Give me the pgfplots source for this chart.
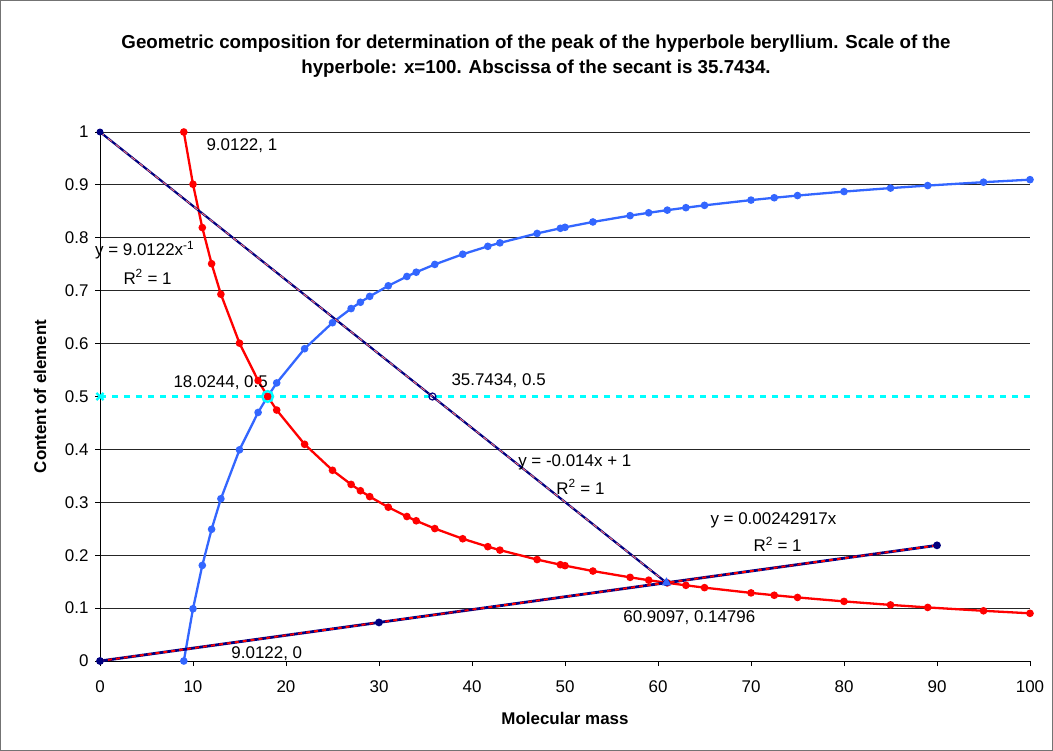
\documentclass[border=0pt]{standalone}
\usepackage{fontspec}
\setmainfont{Liberation Sans}
\usepackage{pgfplots}
\usepackage{pgfplotstable}
\pgfplotsset{compat=1.18}
\definecolor{exred}{RGB}{255,0,0}
\definecolor{exblue}{RGB}{51,102,255}
\definecolor{exnavy}{RGB}{0,0,128}
\definecolor{excyan}{RGB}{0,255,255}
\newcommand{\lab}{\fontsize{17}{20}\selectfont}

\pgfplotstableread{
x        red      blue
9.0122   1.00000  0.00000
10       0.90122  0.09878
11       0.81929  0.18071
12       0.75102  0.24898
13       0.69325  0.30675
15       0.60081  0.39919
17       0.53013  0.46987
18.0244  0.50000  0.50000
19       0.47433  0.52567
22       0.40965  0.59035
25       0.36049  0.63951
27       0.33379  0.66621
28       0.32186  0.67814
29       0.31077  0.68923
31       0.29072  0.70928
33       0.27310  0.72690
34       0.26506  0.73494
36       0.25034  0.74966
39       0.23108  0.76892
41.7     0.21612  0.78388
43       0.20959  0.79041
47       0.19175  0.80825
49.5     0.18206  0.81794
50       0.18024  0.81976
53       0.17004  0.82996
57       0.15811  0.84189
59       0.15275  0.84725
61       0.14774  0.85226
63       0.14305  0.85695
65       0.13865  0.86135
70       0.12875  0.87125
72.5     0.12431  0.87569
75       0.12016  0.87984
80       0.11265  0.88735
85       0.10603  0.89397
89       0.10126  0.89874
95       0.09487  0.90513
100      0.09012  0.90988
}\hyp

\begin{document}
\begin{tikzpicture}
\path[use as bounding box] (0,0) rectangle (1053bp,751bp);
\draw[black!55, line width=0.8bp] (0.5bp,0.5bp) rectangle (1052.5bp,750.5bp);
\node[font=\bfseries\fontsize{18.8}{25}\selectfont, align=center] at (536bp,695bp)
 {Geometric composition for determination of the peak of the hyperbole beryllium. Scale of the\\hyperbole: x=100. Abscissa of the secant is 35.7434.};
\begin{axis}[
  at={(100bp,90bp)}, anchor=south west,
  scale only axis, width=930bp, height=529bp,
  xmin=0, xmax=100, ymin=0, ymax=1,
  axis lines*=left,
  axis line style={black, line width=0.8bp},
  xtick={0,10,...,100},
  ytick={0,0.1,0.2,0.3,0.4,0.5,0.6,0.7,0.8,0.9,1},
  yticklabels={0,0.1,0.2,0.3,0.4,0.5,0.6,0.7,0.8,0.9,1},
  ymajorgrids,
  major grid style={black!85, line width=0.8bp},
  tick style={black, line width=0.8bp},
  major tick length=5bp,
  tick align=outside,
  ticklabel style={font=\lab},
  xticklabel style={yshift=-11bp},
  yticklabel style={xshift=-3bp},
  /pgf/number format/assume math mode=true,
  clip=false,
  xlabel={Molecular mass},
  ylabel={Content of element},
  label style={font=\bfseries\lab},
  xlabel style={at={(axis description cs:0.5,-0.1078)}, anchor=center},
  ylabel style={at={(axis description cs:-0.0645,0.5)}, anchor=center, rotate=0},
]
% cover grid line under the cyan level line
\addplot[white, line width=2bp] coordinates {(0,0.5) (100,0.5)};
% blue curve
\addplot[exblue, line width=2.3bp, mark=*, mark size=2.6bp, mark options={solid, fill=exblue, draw=exblue}] table[x=x, y=blue] {\hyp};
% red curve
\addplot[exred, line width=2.3bp, mark=*, mark size=2.6bp, mark options={solid, fill=exred, draw=exred}] table[x=x, y=red] {\hyp};
% descending secant
\addplot[exnavy, line width=2.2bp, mark=*, mark size=2.3bp] coordinates {(0,1) (60.9097,0.14796)};
\addplot[exred!55, line width=0.9bp, dash pattern=on 5bp off 5bp] coordinates {(0,1) (60.9097,0.14796)};
% ascending line
\addplot[exnavy, line width=2.8bp, mark=*, mark size=2.4bp] coordinates {(0,0) (30,0.072875) (90,0.218625)};
\addplot[exred, line width=1.9bp, dash pattern=on 4bp off 4bp] coordinates {(0,0) (90,0.218625)};
% cyan level line
\addplot[excyan, line width=3bp, dash pattern=on 6bp off 6bp] coordinates {(0,0.5) (100,0.5)};
\addplot[excyan, only marks, mark=x, mark size=5bp, line width=2.2bp] coordinates {(0,0.5)};
\addplot[excyan, only marks, mark=o, mark size=5.5bp, line width=2.2bp] coordinates {(18.0244,0.5)};
\addplot[exnavy, only marks, mark=o, mark size=3.5bp, line width=1.2bp, mark options={fill=white}] coordinates {(35.7434,0.5)};
\addplot[exblue, only marks, mark=triangle*, mark size=5bp] coordinates {(60.9097,0.14796)};
% labels
\node[anchor=west, font=\lab] at (axis cs:11.08,0.975) {9.0122, 1};
\node[anchor=west, font=\lab] at (axis cs:-0.9,0.777) {y = 9.0122x\textsuperscript{-1}};
\node[anchor=west, font=\lab] at (axis cs:2.15,0.726) {R\textsuperscript{2} = 1};
\node[anchor=west, font=\lab] at (axis cs:7.53,0.527) {18.0244, 0.5};
\node[anchor=west, font=\lab] at (axis cs:37.42,0.529) {35.7434, 0.5};
\node[anchor=west, font=\lab] at (axis cs:44.6,0.376) {y = -0.014x + 1};
\node[anchor=west, font=\lab] at (axis cs:48.7,0.329) {R\textsuperscript{2} = 1};
\node[anchor=west, font=\lab] at (axis cs:65.27,0.2665) {y = 0.00242917x};
\node[anchor=west, font=\lab] at (axis cs:69.9,0.221) {R\textsuperscript{2} = 1};
\node[anchor=west, font=\lab] at (axis cs:55.9,0.081) {60.9097, 0.14796};
\node[anchor=west, font=\lab] at (axis cs:13.76,0.013) {9.0122, 0};
\end{axis}
\end{tikzpicture}
\end{document}
